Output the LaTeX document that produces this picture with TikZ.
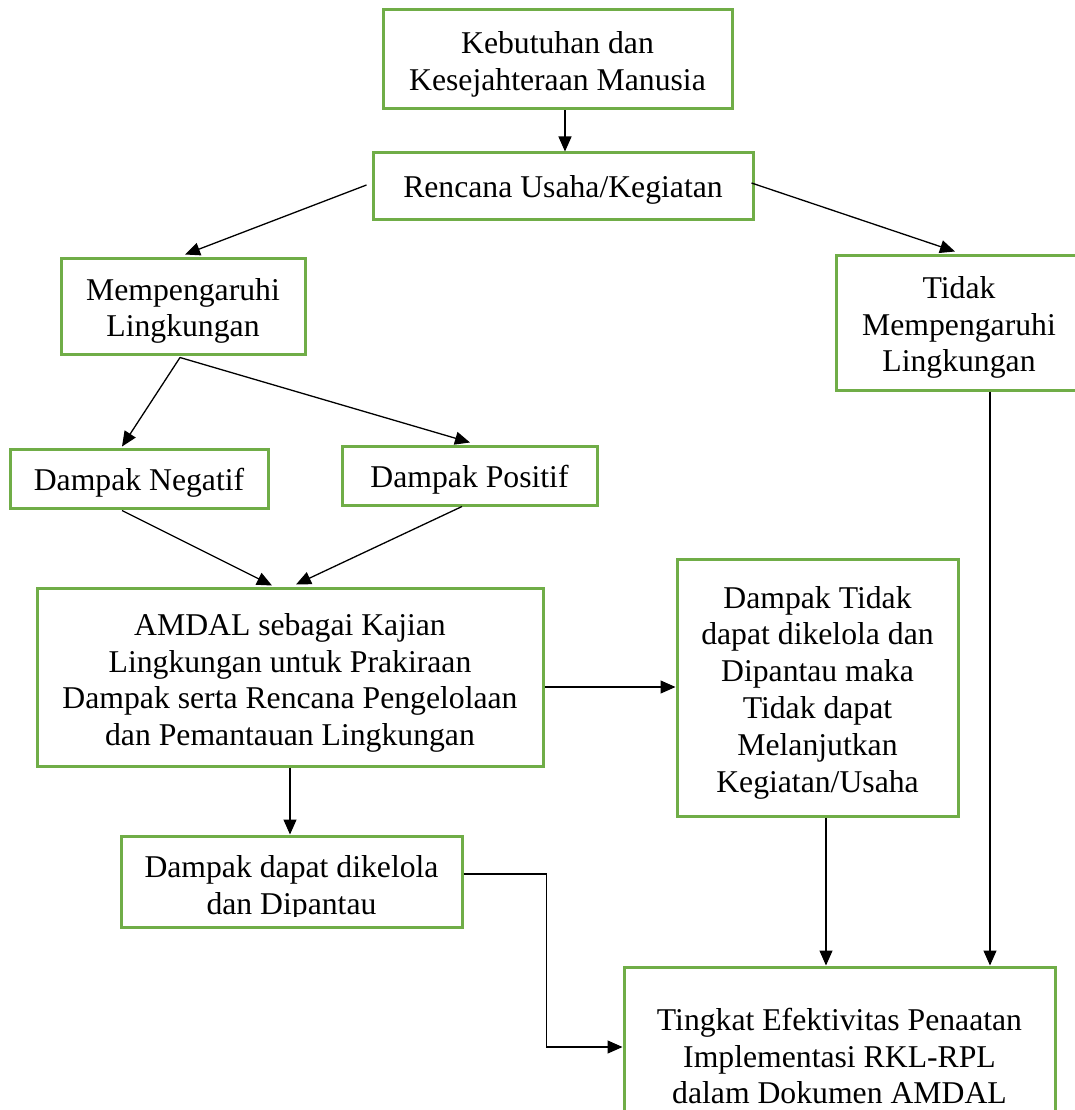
\documentclass[tikz,border=0pt]{standalone}
\usepackage{fontspec}
\setmainfont{Liberation Serif}
\usetikzlibrary{arrows.meta,calc}
\definecolor{boxgreen}{HTML}{70AD47}
\begin{document}
\begin{tikzpicture}[x=1pt,y=-1pt,
  box/.style={draw=boxgreen,line width=3pt,inner sep=0pt},
  txt/.style={inner sep=0pt,align=center,font=\fontsize{31.7}{36.8}\selectfont},
  arr/.style={draw=black,line width=1.3pt,-{Triangle[length=15pt,width=13pt]}}]
\useasboundingbox (0,0) rectangle (1075,1110);
\clip (0,0) rectangle (1075,1110);
\fill[white] (0,0) rectangle (1075,1110);

\node[box,minimum width=349pt,minimum height=99pt] (keb) at (557.5,59.5) {};
\node[txt] (kebt) at ($(keb)+(0,5)$) {Kebutuhan dan\\Kesejahteraan Manusia};
\node[box,minimum width=380pt,minimum height=66pt] (ren) at (563,186) {};
\node[txt] (rent) at ($(ren)+(0,4)$) {Rencana Usaha/Kegiatan};
\node[box,minimum width=244pt,minimum height=96pt] (mem) at (183,306) {};
\node[txt] (memt) at ($(mem)+(0,5)$) {Mempengaruhi\\Lingkungan};
\node[box,minimum width=246pt,minimum height=135pt] (tid) at (959,322.5) {};
\node[txt] (tidt) at ($(tid)+(0,5)$) {Tidak\\Mempengaruhi\\Lingkungan};
\node[box,minimum width=258pt,minimum height=59pt] (neg) at (139,478.5) {};
\node[txt] (negt) at ($(neg)+(0,4)$) {Dampak Negatif};
\node[box,minimum width=255pt,minimum height=59pt] (pos) at (469.5,475.5) {};
\node[txt] (post) at ($(pos)+(0,4)$) {Dampak Positif};
\node[box,minimum width=506pt,minimum height=178pt] (amd) at (290,677) {};
\node[txt] (amdt) at ($(amd)+(0,6)$) {AMDAL sebagai Kajian\\Lingkungan untuk Prakiraan\\Dampak serta Rencana Pengelolaan\\dan Pemantauan Lingkungan};
\node[box,minimum width=281pt,minimum height=257pt] (dtd) at (817.5,687.5) {};
\node[txt] (dtdt) at ($(dtd)+(0,5)$) {Dampak Tidak\\dapat dikelola dan\\Dipantau maka\\Tidak dapat\\Melanjutkan\\Kegiatan/Usaha};
\node[box,minimum width=341pt,minimum height=91pt] (ddk) at (291.5,881.5) {};
\begin{scope}
\clip (100,820) rectangle (480,916);
\node[txt] (ddkt) at (291.5,888.5) {Dampak dapat dikelola\\dan Dipantau};
\end{scope}
\node[box,minimum width=431pt,minimum height=168pt] (tkt) at (839.5,1051) {};
\node[txt] (tktt) at ($(tkt)+(0,5)$) {Tingkat Efektivitas Penaatan\\Implementasi RKL-RPL\\dalam Dokumen AMDAL};

\draw[arr] ($(keb.south)+(7.5,0)$) -- ($(ren.north)+(2,0)$);
\draw[arr] ($(ren.west)+(-5,-1)$) -- ($(mem.north)+(2,-2)$);
\draw[arr] ($(ren.east)+(-3,-3)$) -- ($(tid.north)+(-4,-2)$);
\draw[arr] ($(mem.south)+(-3,2)$) -- ($(neg.north)+(-17,-1)$);
\draw[arr] ($(mem.south)+(-3,2)$) -- ($(pos.north)+(0.5,-2)$);
\draw[arr] ($(neg.south)+(-17,1)$) -- ($(amd.north)+(-18,-1)$);
\draw[arr] ($(pos.south)+(-7.5,0)$) -- ($(amd.north)+(6,-2)$);
\draw[arr] ($(amd.east)+(0,10)$) -- ($(dtd.west)+(0,-0.5)$);
\draw[arr] (amd.south) -- ($(ddk.north)+(-1.5,0)$);
\draw[arr] ($(ddk.east)+(0,-7.5)$) -- ++(83,0) |- ($(tkt.west)+(0,-4)$);
\draw[arr] ($(dtd.south)+(8.5,0)$) -- ($(tkt.north)+(-13.5,0)$);
\draw[arr] ($(tid.south)+(31,0)$) -- ($(tkt.north)+(150.5,0)$);
\end{tikzpicture}
\end{document}
